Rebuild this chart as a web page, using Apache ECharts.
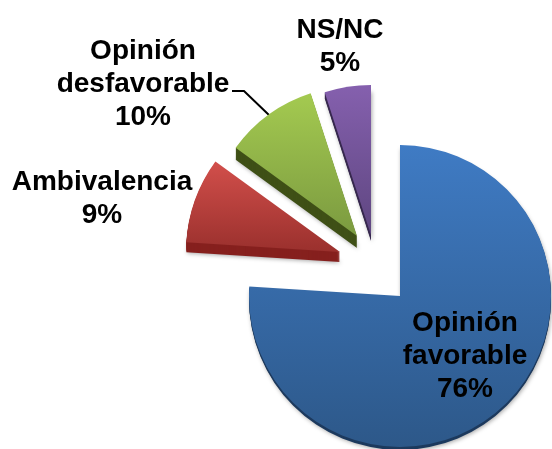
<!DOCTYPE html>
<html>
<head>
<meta charset="utf-8">
<style>html,body{margin:0;padding:0;background:#fff}#c{width:552px;height:449px}</style>
<script src="https://cdn.jsdelivr.net/npm/echarts@6/dist/echarts.min.js"></script>
</head>
<body>
<div id="c"></div>
<script>
const categories = ['Opinión\nfavorable', 'Ambivalencia', 'Opinión\ndesfavorable', 'NS/NC'];
const values = [76, 9, 10, 5];

const centers = [[400, 296], [340, 252], [357, 236], [371, 235]];
const radii = [151, 154, 150, 150];
const depths = [3, 10, 12, 6];
const topColors = ['#3f7bc4', '#d24f4b', '#a4ca50', '#8560ae'];
const bottomColors = ['#2d5889', '#9a302d', '#7b9a40', '#5e4680'];
const sideColors = ['#1d3a5e', '#86201e', '#3f5016', '#38294f'];
const labelPos = [[465, 356], [102, 199], [143, 84], [340, 47]];
const leaderLine = [[270, 116], [244, 91], [232, 91]];

const chart = echarts.init(document.getElementById('c'), null, {renderer: 'canvas'});

function baseData(active, itemStyle, label, labelLine) {
  return categories.map((name, i) => {
    const on = i === active;
    return {
      name: name,
      value: values[i],
      itemStyle: on ? itemStyle : {color: 'transparent', borderWidth: 0},
      label: on ? label : {show: false},
      labelLine: on ? labelLine : {show: false}
    };
  });
}

const series = [];
// side walls: stacked copies, deepest first, so the top face covers them
categories.forEach((_, i) => {
  for (let d = depths[i]; d >= 1; d--) {
    const deepest = d === depths[i];
    series.push({
      type: 'pie', silent: true, animation: false, startAngle: 90, clockwise: true,
      avoidLabelOverlap: false, z: 1,
      center: [centers[i][0], centers[i][1] + d],
      radius: [0, radii[i]],
      label: {show: false}, labelLine: {show: false},
      data: baseData(i, Object.assign({color: sideColors[i], borderWidth: 0},
        deepest ? {shadowBlur: 4, shadowColor: 'rgba(0,0,0,0.35)', shadowOffsetX: 1, shadowOffsetY: 1} : {}
      ), {show: false}, {show: false})
    });
  }
});
categories.forEach((_, i) => {
  const hasLine = i === 2;
  series.push({
    type: 'pie', silent: true, animation: false, startAngle: 90, clockwise: true,
    avoidLabelOverlap: false, z: 2,
    center: centers[i],
    radius: [0, radii[i]],
    labelLayout: function (p) {
      if (p.dataIndex !== i) return {};
      const out = {x: labelPos[i][0], y: labelPos[i][1], align: 'center', verticalAlign: 'middle'};
      if (hasLine) out.labelLinePoints = leaderLine;
      return out;
    },
    data: baseData(i, {
      borderWidth: 0,
      color: new echarts.graphic.LinearGradient(0, 0, 0, 1, [
        {offset: 0, color: topColors[i]},
        {offset: 1, color: bottomColors[i]}
      ])
    }, {
      show: true,
      position: i === 0 ? 'inside' : 'outside',
      formatter: '{b}\n{c}%',
      fontFamily: '"Liberation Sans", Arial, sans-serif',
      fontWeight: 'bold',
      fontSize: 28,
      lineHeight: 33,
      color: '#000',
      align: 'center'
    }, hasLine ? {
      show: true, length: 35, length2: 12,
      lineStyle: {color: '#000', width: 2}
    } : {show: false})
  });
});

chart.setOption({
  backgroundColor: '#fff',
  animation: false,
  series: series
});
</script>
</body>
</html>
